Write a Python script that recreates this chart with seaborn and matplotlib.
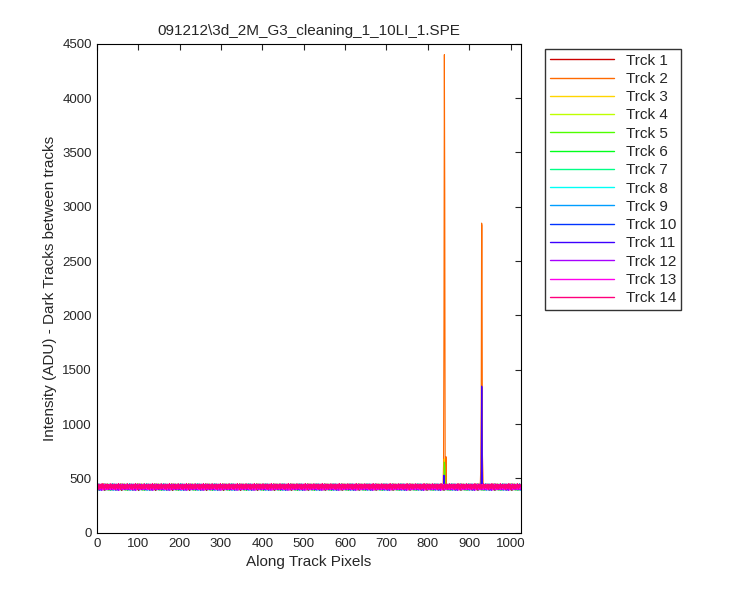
import numpy as np
import pandas as pd
import matplotlib
matplotlib.use('Agg')
import matplotlib.pyplot as plt
import seaborn as sns

n_pix = 1024
tracks = ['Trck %d' % i for i in range(1, 15)]
baselines = [418, 425, 422, 420, 421, 419, 423, 417, 424, 420, 422, 418, 421, 426]
# read-off noise pattern around baseline (ADU), repeated along the track
jitter = [12, -18, 5, 22, -9, -25, 14, 3, -12, 19, -4, -21, 8, 27, -15, 1,
          -7, 16, -28, 10, 6, -13, 24, -2, -19, 11, -6, 20, -24, 4, 15, -10,
          -16, 9, 26, -1, -22, 13, -8, 18, -3]
# (track index, pixel, value)
peaks = [(1, 836, 460), (1, 837, 620), (1, 838, 1920), (1, 839, 4400), (1, 840, 3110),
         (1, 841, 560), (1, 843, 700), (1, 926, 470), (1, 927, 600), (1, 928, 1150),
         (1, 929, 2850), (1, 930, 2830), (1, 931, 720), (1, 932, 580),
         (4, 839, 650), (4, 840, 620), (2, 929, 760), (2, 839, 680),
         (10, 929, 1350), (10, 930, 1340), (10, 838, 530), (9, 929, 560)]

rows = []
for t, name in enumerate(tracks):
    y = baselines[t] + np.roll(np.resize(jitter, n_pix), t * 3)
    y = y.astype(float)
    for tt, px, v in peaks:
        if tt == t:
            y[px] = v
    rows.append(pd.DataFrame({'pixel': np.arange(1, n_pix + 1), 'adu': y, 'track': name}))
df = pd.concat(rows)

sns.set_style('white')
plt.rcParams['font.family'] = ['Liberation Sans', 'DejaVu Sans']
colors = [plt.cm.hsv(v) for v in np.linspace(0, 0.93, 14)]
colors[0] = '#cc0000'

fig = plt.figure(figsize=(7.5, 6), dpi=100)
ax = fig.add_axes([0.129, 0.112, 0.565, 0.815])
sns.lineplot(data=df, x='pixel', y='adu', hue='track', palette=colors, linewidth=0.8,
             ax=ax, estimator=None)
ax.set_xlim(0, 1024)
ax.set_ylim(0, 4500)
ax.set_xticks(range(0, 1001, 100))
ax.set_yticks(range(0, 4501, 500))
ax.tick_params(direction='in', length=4, labelsize=9.5, top=True, right=True)
for s in ax.spines.values():
    s.set_color('black')
ax.set_xlabel('Along Track Pixels', fontsize=11)
ax.set_ylabel('Intensity (ADU) - Dark Tracks between tracks', fontsize=11)
ax.set_title('091212\\3d_2M_G3_cleaning_1_10LI_1.SPE', fontsize=11)
leg = ax.legend(loc='upper left', bbox_to_anchor=(1.04, 1.005), fontsize=11, frameon=True,
                fancybox=False, edgecolor='black', handlelength=4.2, labelspacing=0.28,
                borderpad=0.3)
for h in leg.get_lines():
    h.set_linewidth(1)
fig.savefig('out.png', dpi=100)
